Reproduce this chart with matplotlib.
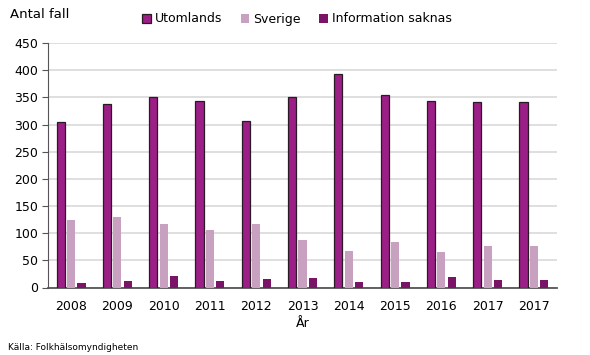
import matplotlib
matplotlib.use("Agg")
import matplotlib.pyplot as plt
import numpy as np

years = ["2008", "2009", "2010", "2011", "2012", "2013", "2014", "2015", "2016", "2017", "2017"]
utomlands = [305, 337, 351, 344, 306, 351, 393, 354, 343, 341, 341]
sverige = [124, 130, 117, 106, 116, 88, 67, 83, 65, 76, 76]
saknas = [9, 12, 21, 12, 16, 17, 11, 11, 19, 14, 14]
series_names = ["Utomlands", "Sverige", "Information saknas"]
yticks = [0, 50, 100, 150, 200, 250, 300, 350, 400, 450]

plt.rcParams['font.family'] = ['DejaVu Sans']

fig = plt.figure(figsize=(5.9, 3.55), dpi=100)
ax = fig.add_axes([48/590, 1-287.5/355, (557-48)/590, (287.5-43)/355])

x = np.arange(len(years))
w = 0.175
off = 0.225
ax.bar(x - off, utomlands, w, color="#9B1F87", edgecolor="#2a1a26", linewidth=0.9, label=series_names[0], zorder=3)
ax.bar(x, sverige, w, color="#C9A1C0", edgecolor="none", label=series_names[1], zorder=3)
ax.bar(x + off, saknas, w, color="#7A1467", edgecolor="none", label=series_names[2], zorder=3)

ax.set_xlim(-0.5, len(years) - 0.5)
ax.set_ylim(0, 450)
ax.set_yticks(yticks)
ax.set_xticks(x)
ax.set_xticklabels(years)
ax.yaxis.grid(True, color="#d9d9d9", linewidth=1.2, zorder=0)
ax.set_axisbelow(True)
for s in ["top", "right"]:
    ax.spines[s].set_visible(False)
ax.spines["left"].set_color("#555555")
ax.spines["bottom"].set_color("#555555")
ax.spines["bottom"].set_linewidth(1.3)
ax.tick_params(axis="y", length=4, color="#555555", labelsize=9, pad=3)
ax.tick_params(axis="x", length=0, labelsize=9, pad=9)
ax.set_xlabel("År", fontsize=9, labelpad=3)

fig.text(10/590, 1-15/355, "Antal fall", fontsize=9.5, va="center", ha="left")
fig.text(8/590, 1-347/355, "Källa: Folkhälsomyndigheten", fontsize=6.5, va="center", ha="left")

leg = fig.legend(loc="center", bbox_to_anchor=(297/590, 1-19/355), ncol=3, frameon=False,
                 fontsize=9, handlelength=0.7, handleheight=0.7, handletextpad=0.3, columnspacing=1.5)

fig.savefig("out.png", dpi=100)
